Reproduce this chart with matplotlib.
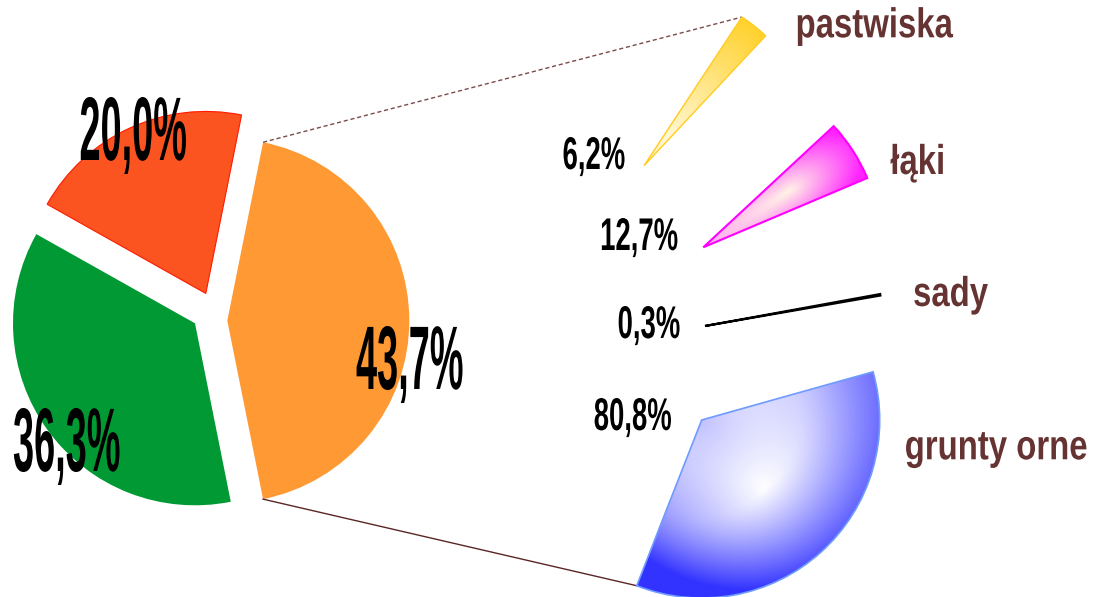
import numpy as np
import matplotlib
matplotlib.use('Agg')
import matplotlib.pyplot as plt
from matplotlib.patches import Wedge
from matplotlib.patheffects import AbstractPathEffect
from matplotlib.transforms import Affine2D
from matplotlib.colors import to_rgb

# ---------------- data ----------------
main_values = [43.7, 20.0, 36.3]
main_colors = ['#FF9933', '#FB5420', '#009933']
sub_labels = ['pastwiska', 'łąki', 'sady', 'grunty orne']
sub_values = [6.2, 12.7, 0.3, 80.8]


def pct(v):
    return f"{v:.1f}%".replace('.', ',')


W, H = 1102, 597
fig = plt.figure(figsize=(W / 100, H / 100), dpi=100)
ax = fig.add_axes([0, 0, 1, 1])


def P(x, y):
    """pixel position (y down) -> data position"""
    return (x, H - y)


class Squeeze(AbstractPathEffect):
    """Render text glyphs horizontally condensed (narrow bold face)."""

    def __init__(self, sx, anchor='center'):
        super().__init__()
        self.sx = sx
        self.anchor = anchor

    def draw_path(self, renderer, gc, tpath, affine, rgbFace=None):
        ext = tpath.get_extents()
        if self.anchor == 'left':
            cx = 0.0
        elif self.anchor == 'right':
            cx = ext.x1
        else:
            cx = 0.5 * (ext.x0 + ext.x1)
        t = Affine2D().translate(-cx, 0).scale(self.sx, 1).translate(cx, 0) + affine
        renderer.draw_path(gc, tpath, t, rgbFace)


# ---------------- main pie ----------------
R_MAIN = 182
total = sum(main_values)
start = -main_values[0] / total * 360 / 2
wedges, _ = ax.pie(main_values, colors=main_colors, startangle=start,
                   counterclock=True, radius=R_MAIN, center=P(218.3, 320.7),
                   explode=[9, 30, 24], wedgeprops=dict(linewidth=0))
wedges[1].set_edgecolor('#FF1A00')
wedges[1].set_linewidth(0.8)
# green slice is pulled out mostly sideways in the original layout
wedges[2].set_center(P(195, 323.3))

o = wedges[0]
orange_span = o.theta2 - o.theta1

# ---------------- exploded breakdown ----------------
R_SUB = 178
sub_centers_px = [(644, 165.7), (703.3, 247.3), (705, 326), (701.7, 420)]
sub_mid = [51.75, 32.9, 10.1, -47.85]
sub_style = [
    dict(light='#FFF8D8', dark='#FFD22E', rho0=0.2, a_in=0.3, a_out=1.0, kv=(3.0, 3.0), skew=0.0,
         edge='#FFCC22', lw=1.0),
    dict(light='#FFF3E6', dark='#FF22FF', rho0=0.58, a_in=0.35, a_out=0.9, kv=(4.0, 4.0), skew=0.0,
         edge='#FF00FF', lw=1.5),
    None,
    dict(light='#FFFFFF', dark='#3333FF', rho0=0.52, a_in=0.3, a_out=0.82, kv=(0.8, 0.55), skew=0.3,
         edge='#6F9BFF', lw=1.2),
]


def grad_wedge(center, r, t1, t2, st, z=2):
    wd = Wedge(center, r, t1, t2, facecolor='none', edgecolor=st['edge'],
               lw=st['lw'], zorder=z + 1)
    ax.add_patch(wd)
    cx, cy = center
    angs = np.radians(np.linspace(t1, t2, 60))
    xs = np.concatenate([[cx], cx + r * np.cos(angs)])
    ys = np.concatenate([[cy], cy + r * np.sin(angs)])
    x0, x1 = xs.min() - 3, xs.max() + 3
    y0, y1 = ys.min() - 3, ys.max() + 3
    nx, ny = int((x1 - x0) * 2), int((y1 - y0) * 2)
    X, Y = np.meshgrid(np.linspace(x0, x1, nx), np.linspace(y0, y1, ny))
    dx, dy = X - cx, Y - cy
    rho = np.hypot(dx, dy) / r
    th = np.degrees(np.arctan2(dy, dx))
    mid = 0.5 * (t1 + t2)
    dth = np.radians((th - mid + 180) % 360 - 180)
    v = rho * np.sin(dth)
    rho0 = st['rho0']
    tr = np.where(rho < rho0, st['a_in'] * (rho0 - rho) / rho0,
                  st['a_out'] * (rho - rho0) / (1 - rho0))
    kneg, kpos = st['kv']
    tl = np.where(v < 0, kneg, kpos) * v
    t = np.sqrt(tr ** 2 + tl ** 2) * (1 - st['skew'] * v)
    t = np.clip(t, 0, 1)
    light = np.array(to_rgb(st['light']))
    dark = np.array(to_rgb(st['dark']))
    col = light * (1 - t)[..., None] + dark * t[..., None]
    im = ax.imshow(col, extent=[x0, x1, y0, y1], origin='lower',
                   interpolation='bilinear', zorder=z)
    im.set_clip_path(wd)
    return wd


sub_wedges = []
for v, c, m, st in zip(sub_values, sub_centers_px, sub_mid, sub_style):
    span = v / 100 * orange_span
    t1, t2 = m - span / 2, m + span / 2
    if st is None:
        wd = Wedge(P(*c), R_SUB, t1, t2, facecolor='black', edgecolor='black',
                   lw=1.6, zorder=3)
        ax.add_patch(wd)
    else:
        wd = grad_wedge(P(*c), R_SUB, t1, t2, st)
    sub_wedges.append(wd)


def edge_point(w, ang):
    a = np.radians(ang)
    return (w.center[0] + w.r * np.cos(a), w.center[1] + w.r * np.sin(a))


# connector lines
p1 = edge_point(o, o.theta2)
p2 = edge_point(sub_wedges[0], sub_wedges[0].theta2)
ax.plot([p1[0], p2[0]], [p1[1], p2[1]], color='#7B4B4B', lw=1.0,
        dashes=(3, 2), zorder=1)
q1 = edge_point(o, o.theta1)
q2 = edge_point(sub_wedges[3], sub_wedges[3].theta1)
ax.plot([q1[0], q2[0]], [q1[1], q2[1]], color='#5C2626', lw=1.0, zorder=1)

# ---------------- labels ----------------
FONT = 'Liberation Sans'
# (x, baseline y, alignment)
main_label_pos = [(410, 389, 'center'), (133, 160, 'center'), (13, 471, 'left')]
for v, (x, y, ha) in zip(main_values, main_label_pos):
    ax.text(*P(x, y), pct(v), ha=ha, va='baseline', fontsize=65,
            fontweight='bold', family=FONT, color='black', zorder=6,
            path_effects=[Squeeze(0.42, ha)])

sub_pct_pos = [(594, 169), (639, 250), (649, 338), (633, 430)]
for v, (x, y) in zip(sub_values, sub_pct_pos):
    ax.text(*P(x, y), pct(v), ha='center', va='baseline', fontsize=33,
            fontweight='bold', family=FONT, color='black', zorder=6,
            path_effects=[Squeeze(0.6)])

sub_name_pos = [(874, 37.3, 'center'), (918, 174, 'center'),
                (950.5, 306, 'center'), (1088, 459.3, 'right')]
for lab, (x, y, ha) in zip(sub_labels, sub_name_pos):
    ax.text(*P(x, y), lab, ha=ha, va='baseline', fontsize=30,
            fontweight='bold', family=FONT, color='#663333', zorder=6,
            path_effects=[Squeeze(0.79, ha)])

ax.set_xlim(0, W)
ax.set_ylim(0, H)
ax.set_aspect('auto')
ax.axis('off')
fig.savefig('out.png', dpi=100)
